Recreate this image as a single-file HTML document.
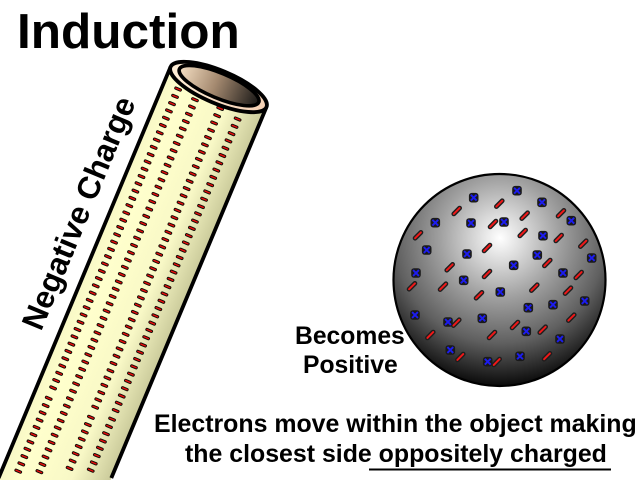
<!DOCTYPE html>
<html><head><meta charset="utf-8"><style>
html,body{margin:0;padding:0;background:#fff;overflow:hidden;width:640px;height:480px}
svg{display:block}
text{font-family:"Liberation Sans",sans-serif;font-weight:bold;fill:#000}
</style></head><body>
<svg width="640" height="480" viewBox="0 0 640 480" xmlns="http://www.w3.org/2000/svg" style="overflow:hidden">
<defs>
<linearGradient id="tube" x1="170.53" y1="66.93" x2="266.47" y2="107.07" gradientUnits="userSpaceOnUse">
<stop offset="0" stop-color="#f8f8c6"/><stop offset=".2" stop-color="#ffffcc"/><stop offset=".65" stop-color="#f8f8c6"/><stop offset="1" stop-color="#caca9a"/></linearGradient>
<linearGradient id="rim" x1="-52" x2="52" y1="0" y2="0" gradientUnits="userSpaceOnUse">
<stop offset="0" stop-color="#fff0d8"/><stop offset="1" stop-color="#f4d0b4"/></linearGradient>
<linearGradient id="hole" x1="-42" x2="42" y1="0" y2="0" gradientUnits="userSpaceOnUse">
<stop offset="0" stop-color="#f2dcc0"/><stop offset=".45" stop-color="#a58a70"/><stop offset="1" stop-color="#1c1a18"/></linearGradient>
<radialGradient id="ball" gradientUnits="userSpaceOnUse" cx="500" cy="238" r="150">
<stop offset="0" stop-color="#fff"/><stop offset=".15" stop-color="#dcdcdc"/><stop offset=".4" stop-color="#a0a0a0"/><stop offset=".7" stop-color="#606060"/><stop offset="1" stop-color="#060606"/></radialGradient>
<g id="d"><line x1="-2.4" x2="2.4" stroke="#120c06" stroke-width="3.3" stroke-linecap="round"/><line x1="-2.4" x2="2.4" stroke="#e80c0c" stroke-width="1.4" stroke-linecap="round"/></g>
<g id="d5"><use href="#d"/><use href="#d" y="7.9"/><use href="#d" y="15.8"/><use href="#d" y="23.7"/><use href="#d" y="31.6"/></g>
<g id="d10"><use href="#d5"/><use href="#d5" y="39.5"/></g>
<g id="d40"><use href="#d10"/><use href="#d10" y="79"/><use href="#d10" y="158"/><use href="#d10" y="237"/></g>
<g id="r"><line x1="-2.9" y1="2.9" x2="2.9" y2="-2.9" stroke="#1e1e1e" stroke-width="4.8" stroke-linecap="round"/><line x1="-2.9" y1="2.9" x2="2.9" y2="-2.9" stroke="#f01818" stroke-width="2" stroke-linecap="round"/></g>
<g id="b"><rect x="-4.8" y="-4.8" width="9.6" height="9.6" rx="2.8" fill="#1a1a1a"/><path d="M-2.9-2.9L2.9 2.9M-2.9 2.9L2.9-2.9" stroke="#1c1cf0" stroke-width="1.9"/></g>
</defs>

<path d="M170.53 66.93L-2.3 480H110.5L266.47 107.07Z" fill="url(#tube)"/>
<path d="M170.53 66.93L-1.4 478M266.47 107.07L111.3 478" stroke="#000" stroke-width="3.8" fill="none"/>
<g transform="translate(218.5,87) rotate(22.7) translate(-36.5,17.5)"><use href="#d40"/><use href="#d" y="316"/><use href="#d" y="323.9"/></g>
<g transform="translate(218.5,87) rotate(22.7) translate(-36.5,352.7)"><use href="#d10"/><use href="#d" y="79"/></g>
<g transform="translate(218.5,87) rotate(22.7) translate(-16.8,20.8)"><use href="#d40"/><use href="#d" y="316"/></g>
<g transform="translate(218.5,87) rotate(22.7) translate(-16.8,345)"><use href="#d10"/><use href="#d" y="79"/></g>
<g transform="translate(218.5,87) rotate(22.7) translate(9.8,19.1)"><use href="#d40"/><use href="#d" y="316"/><use href="#d" y="323.9"/></g>
<g transform="translate(218.5,87) rotate(22.7) translate(9.8,354)"><use href="#d5"/><use href="#d" y="39.5"/><use href="#d" y="47.4"/><use href="#d" y="55.3"/></g>
<g transform="translate(218.5,87) rotate(22.7) translate(30,22.2)"><use href="#d40"/><use href="#d" y="316"/></g>
<g transform="translate(218.5,87) rotate(22.7) translate(30,347.5)"><use href="#d5"/><use href="#d" y="39.5"/><use href="#d" y="47.4"/><use href="#d" y="55.3"/></g>
<ellipse transform="translate(218.5,87) rotate(22.7)" cx="0" cy="0" rx="52" ry="16.5" fill="url(#rim)" stroke="#000" stroke-width="3.8"/>
<ellipse transform="translate(218.5,87) rotate(22.7)" cx="0" cy="-1.5" rx="43" ry="12.5" fill="url(#hole)" stroke="#000" stroke-width="3.6"/>

<circle cx="499.5" cy="280" r="106" fill="url(#ball)" stroke="#000" stroke-width="2.2"/>
<use href="#r" x="456.7" y="211"/><use href="#r" x="499.3" y="203.7"/><use href="#r" x="561" y="213.3"/><use href="#r" x="524.7" y="215.7"/><use href="#r" x="493" y="224"/><use href="#r" x="418" y="235.3"/><use href="#r" x="522.7" y="233"/><use href="#r" x="558.7" y="238"/><use href="#r" x="583.3" y="243.7"/><use href="#r" x="487" y="248"/><use href="#r" x="547.3" y="263"/><use href="#r" x="449.7" y="267.3"/><use href="#r" x="487" y="274"/><use href="#r" x="578.7" y="275"/><use href="#r" x="412" y="286.3"/><use href="#r" x="443" y="286.7"/><use href="#r" x="479" y="295.3"/><use href="#r" x="534.3" y="287.7"/><use href="#r" x="568" y="290.7"/><use href="#r" x="571.3" y="317.7"/><use href="#r" x="456.3" y="322.7"/><use href="#r" x="515" y="325"/><use href="#r" x="542.7" y="329.7"/><use href="#r" x="492" y="335"/><use href="#r" x="430.3" y="335"/><use href="#r" x="460.3" y="357"/><use href="#r" x="496.7" y="362"/><use href="#r" x="547" y="356.3"/>
<use href="#b" x="517" y="190.7"/><use href="#b" x="473.7" y="197.7"/><use href="#b" x="542" y="202.3"/><use href="#b" x="571.3" y="220.7"/><use href="#b" x="435.3" y="222.7"/><use href="#b" x="471" y="223"/><use href="#b" x="504" y="222"/><use href="#b" x="543" y="235.7"/><use href="#b" x="426.7" y="250"/><use href="#b" x="467" y="254"/><use href="#b" x="537.3" y="255"/><use href="#b" x="591.7" y="258"/><use href="#b" x="513.7" y="265.3"/><use href="#b" x="416" y="273"/><use href="#b" x="563" y="273"/><use href="#b" x="463.7" y="280.3"/><use href="#b" x="500.3" y="292"/><use href="#b" x="528.3" y="307.7"/><use href="#b" x="553" y="304.7"/><use href="#b" x="584.7" y="301"/><use href="#b" x="415" y="315"/><use href="#b" x="448" y="322"/><use href="#b" x="482.3" y="318.3"/><use href="#b" x="526.3" y="331.3"/><use href="#b" x="560" y="339"/><use href="#b" x="450.3" y="350"/><use href="#b" x="520" y="356.3"/><use href="#b" x="487.7" y="361.7"/>

<text x="17" y="48" font-size="49.5">Induction</text>
<text transform="translate(41,332) rotate(-67.5)" font-size="31.5">Negative Charge</text>
<text x="295" y="344" font-size="24.7">Becomes</text>
<text x="303" y="373" font-size="24.7">Positive</text>
<text x="154" y="432" font-size="24.9">Electrons move within the object making</text>
<text x="185" y="462" font-size="24.9">the closest side oppositely charged</text>
<rect x="369" y="468.5" width="242" height="2" fill="#000"/>
</svg>
</body></html>
